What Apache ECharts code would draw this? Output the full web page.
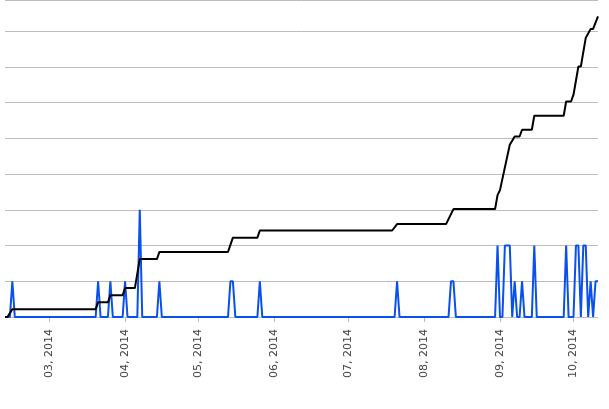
<!DOCTYPE html>
<html>
<head>
<meta charset="utf-8">
<script src="https://cdn.jsdelivr.net/npm/echarts@6/dist/echarts.min.js"></script>
<style>html,body{margin:0;padding:0;background:#fff}#chart{width:609px;height:409px}</style>
</head>
<body>
<div id="chart"></div>
<script>
// Dias contados desde el 11-02-2014
const startDate = [2014, 1, 11];
const monthTicks = ['2014-03-01', '2014-04-01', '2014-05-01', '2014-06-01', '2014-07-01', '2014-08-01', '2014-09-01', '2014-10-01'];

// Serie acumulada (negra): [dia, valor]
const totalDays = [0, 1, 3, 37, 38, 42, 43, 48, 49, 53, 55, 62, 63, 91, 93, 103, 104, 158, 160, 180, 183, 200, 201, 202, 206, 208, 210, 211, 215, 216, 228, 229, 231, 232, 234, 235, 237, 239, 240, 242];
const totalValues = [0, 0, 0.22, 0.22, 0.41, 0.41, 0.61, 0.61, 0.81, 0.81, 1.62, 1.62, 1.82, 1.82, 2.22, 2.22, 2.42, 2.42, 2.6, 2.6, 3.02, 3.02, 3.41, 3.55, 4.82, 5.05, 5.05, 5.24, 5.24, 5.63, 5.63, 6.03, 6.03, 6.22, 7.01, 7.01, 7.81, 8.06, 8.06, 8.41];

// Serie diaria (azul): dias con valor distinto de cero
const dailyDays = [3, 38, 43, 49, 55, 63, 92, 93, 104, 160, 182, 183, 201, 204, 205, 206, 208, 211, 216, 229, 233, 234, 236, 237, 239, 241, 242];
const dailyValues = [1, 1, 1, 1, 3, 1, 1, 1, 1, 1, 1, 1, 2, 2, 2, 2, 1, 1, 2, 2, 2, 2, 2, 2, 1, 1, 1];
const lastDay = 242;

const DAY = 86400000;
const t0 = Date.UTC(startDate[0], startDate[1], startDate[2]);
const toDate = d => new Date(t0 + d * DAY);

const totalData = totalDays.map((d, i) => [d, totalValues[i]]);
const dailyData = [];
for (let d = 0; d <= lastDay; d++) {
    const idx = dailyDays.indexOf(d);
    dailyData.push([d, idx >= 0 ? dailyValues[idx] : 0]);
}
// Posicion de cada mes en dias
const tickDays = monthTicks.map(s => Math.round((Date.parse(s + 'T00:00:00Z') - t0) / DAY));

const chart = echarts.init(document.getElementById('chart'));
chart.setOption({
    animation: false,
    grid: { left: 5, right: 11, top: 0, bottom: 92 },
    xAxis: {
        type: 'value',
        min: 0,
        max: lastDay,
        axisLine: { show: false },
        splitLine: { show: false },
        axisTick: { show: true, length: 5, lineStyle: { color: '#bbb' }, customValues: tickDays },
        axisLabel: {
            customValues: tickDays,
            rotate: 90,
            margin: 12,
            color: '#444',
            fontSize: 11,
            fontFamily: 'DejaVu Sans',
            formatter: v => {
                const dt = toDate(v);
                return String(dt.getUTCMonth() + 1).padStart(2, '0') + ', ' + dt.getUTCFullYear();
            }
        }
    },
    yAxis: {
        type: 'value',
        min: 0,
        max: 8.87,
        interval: 1,
        axisLabel: { show: false },
        axisLine: { show: false },
        axisTick: { show: false },
        splitLine: { lineStyle: { color: '#bdbdbd', width: 1 } }
    },
    series: [
        {
            name: 'Diario',
            type: 'line',
            data: dailyData,
            showSymbol: false,
            lineStyle: { color: '#0a50ec', width: 2 }
        },
        {
            name: 'Acumulado',
            type: 'line',
            data: totalData,
            showSymbol: false,
            lineStyle: { color: '#000', width: 2 }
        }
    ]
});
</script>
</body>
</html>
